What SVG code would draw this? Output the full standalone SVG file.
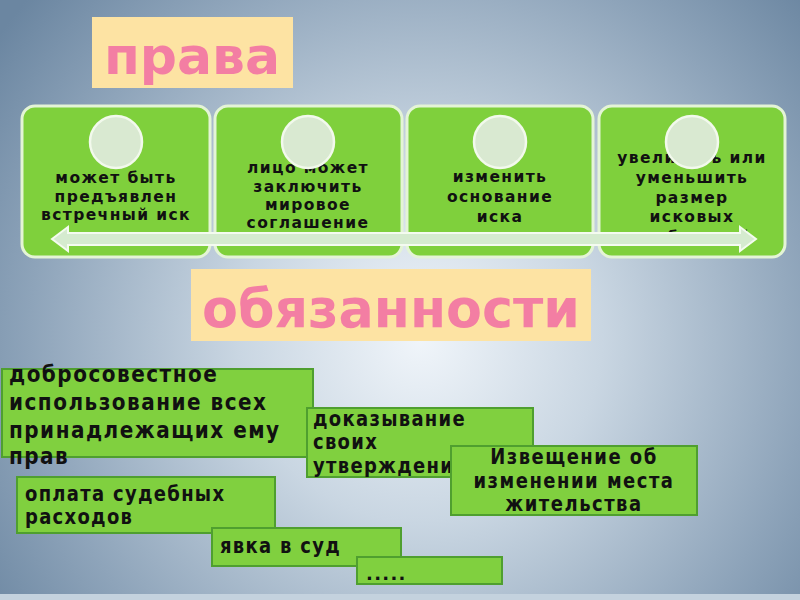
<svg xmlns="http://www.w3.org/2000/svg" width="800" height="600" viewBox="0 0 800 600">
<defs>
<radialGradient id="bg" cx="420" cy="340" r="520" gradientUnits="userSpaceOnUse">
<stop offset="0" stop-color="#f0f5fa"/>
<stop offset="0.35" stop-color="#c9d6e2"/>
<stop offset="0.75" stop-color="#8ea4ba"/>
<stop offset="1" stop-color="#6b86a1"/>
</radialGradient>
<style>
.title{fill:#fde3a3}
.ttxt{font-family:"DejaVu Sans",sans-serif;font-weight:bold;fill:#f37ea3;text-anchor:middle}
.card{fill:#7fd03c;stroke:#e4f4d6;stroke-width:3}
.circ{fill:#d9e9d1;stroke:#f2f9ec;stroke-width:2.5}
.ctxt{font-family:"DejaVu Sans",sans-serif;font-weight:bold;font-size:15.5px;letter-spacing:1.4px;fill:#111;text-anchor:middle}
.box{fill:#80d03f;stroke:#4f9f2f;stroke-width:2}
.btxt{font-family:"DejaVu Sans",sans-serif;font-weight:bold;font-size:18px;letter-spacing:1.3px;fill:#111}
.big{font-size:20px;letter-spacing:1.5px}
.mid{text-anchor:middle;letter-spacing:1.5px}
.arrow{fill:#d5ebcf;stroke:#f4fbf0;stroke-width:2}
</style>
</defs>
<rect width="800" height="600" fill="url(#bg)"/>
<rect x="0" y="594" width="800" height="6" fill="#c4d2de"/>

<g id="title-prava">
<rect class="title" x="92" y="17" width="201" height="71"/>
<text class="ttxt" x="192" y="74" font-size="52">права</text>
</g>

<g id="card1">
<rect class="card" x="22" y="106" width="188" height="151" rx="13"/>
<text class="ctxt"><tspan x="116" y="183">может быть</tspan><tspan x="116" y="202">предъявлен</tspan><tspan x="116" y="220">встречный иск</tspan></text>
<circle class="circ" cx="116" cy="142" r="26"/>
</g>
<g id="card2">
<rect class="card" x="215" y="106" width="187" height="151" rx="13"/>
<text class="ctxt"><tspan x="308" y="173">лицо может</tspan><tspan x="308" y="192">заключить</tspan><tspan x="308" y="210">мировое</tspan><tspan x="308" y="228">соглашение</tspan></text>
<circle class="circ" cx="308" cy="142" r="26"/>
</g>
<g id="card3">
<rect class="card" x="407" y="106" width="186" height="151" rx="13"/>
<text class="ctxt"><tspan x="500" y="182">изменить</tspan><tspan x="500" y="202">основание</tspan><tspan x="500" y="222">иска</tspan></text>
<circle class="circ" cx="500" cy="142" r="26"/>
</g>
<g id="card4">
<rect class="card" x="599" y="106" width="186" height="151" rx="13"/>
<text class="ctxt"><tspan x="692" y="163">увеличить или</tspan><tspan x="692" y="183">уменьшить</tspan><tspan x="692" y="203">размер</tspan><tspan x="692" y="222">исковых</tspan><tspan x="692" y="242">требований</tspan></text>
<circle class="circ" cx="692" cy="142" r="26"/>
</g>

<g id="connectors">
<path class="arrow" d="M52,239 L68,227 L68,233 L740,233 L740,227 L756,239 L740,251 L740,245 L68,245 L68,251 Z"/>
</g>

<g id="title-obyaz">
<rect class="title" x="191" y="269" width="400" height="72"/>
<text class="ttxt" x="391" y="327" font-size="54" textLength="378" lengthAdjust="spacingAndGlyphs">обязанности</text>
</g>

<g id="duty1">
<rect class="box" x="2" y="369" width="311" height="88"/>
<text class="btxt big" x="9" y="382" transform="matrix(1 0 0 1.15 0 -57.3)">добросовестное</text>
<text class="btxt big" x="9" y="410" transform="matrix(1 0 0 1.15 0 -61.5)">использование всех</text>
<text class="btxt big" x="9" y="438" transform="matrix(1 0 0 1.15 0 -65.7)">принадлежащих ему</text>
<text class="btxt big" x="9" y="464" transform="matrix(1 0 0 1.15 0 -69.6)">прав</text>
</g>
<g id="duty2">
<rect class="box" x="307" y="408" width="226" height="69"/>
<text class="btxt" x="313" y="426" transform="matrix(1 0 0 1.15 0 -63.9)">доказывание</text>
<text class="btxt" x="313" y="449" transform="matrix(1 0 0 1.15 0 -67.35)">своих</text>
<text class="btxt" x="313" y="473" transform="matrix(1 0 0 1.15 0 -70.95)">утверждений</text>
</g>
<g id="duty3">
<rect class="box" x="451" y="446" width="246" height="69"/>
<text class="btxt mid" x="574" y="464" transform="matrix(1 0 0 1.15 0 -69.6)">Извещение об</text>
<text class="btxt mid" x="574" y="488" transform="matrix(1 0 0 1.15 0 -73.2)">изменении места</text>
<text class="btxt mid" x="574" y="511" transform="matrix(1 0 0 1.15 0 -76.65)">жительства</text>
</g>
<g id="duty4">
<rect class="box" x="17" y="477" width="258" height="56"/>
<text class="btxt" x="25" y="501" transform="matrix(1 0 0 1.15 0 -75.15)">оплата судебных</text>
<text class="btxt" x="25" y="524" transform="matrix(1 0 0 1.15 0 -78.6)">расходов</text>
</g>
<g id="duty5">
<rect class="box" x="212" y="528" width="189" height="38"/>
<text class="btxt" x="220" y="553" transform="matrix(1 0 0 1.15 0 -82.95)">явка в суд</text>
</g>
<g id="duty6">
<rect class="box" x="357" y="557" width="145" height="27"/>
<text class="btxt" x="366" y="580">.....</text>
</g>
</svg>
